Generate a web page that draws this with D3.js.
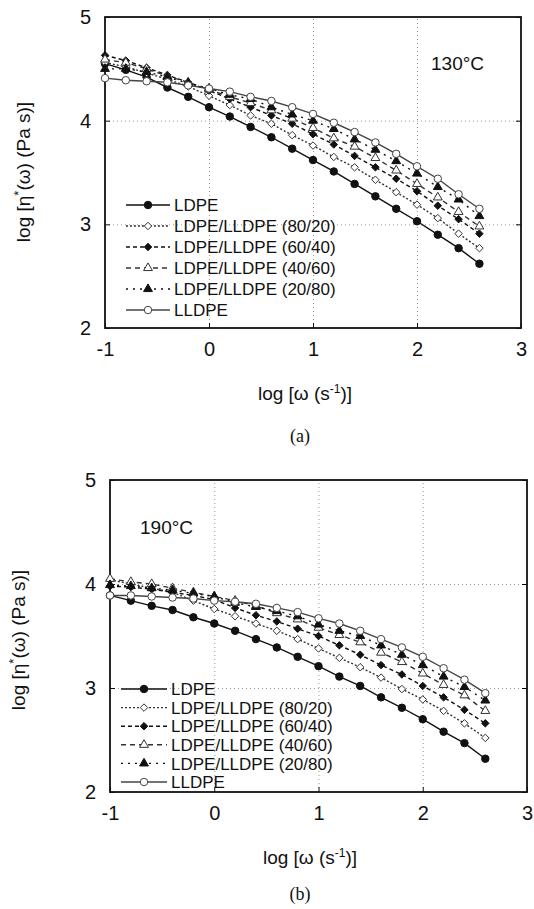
<!DOCTYPE html>
<html>
<head>
<meta charset="utf-8">
<script src="https://cdn.jsdelivr.net/npm/d3@7"></script>
<style>
  body { margin: 0; background: #fff; }
  text { font-family: "Liberation Sans", Arial, sans-serif; fill: #111; }
</style>
</head>
<body>
<script>
const width = 534
const height = 909

// log(omega) values, same for every series
const logOmega = [-1, -0.8, -0.6, -0.4, -0.2, 0, 0.2, 0.4, 0.6, 0.8, 1, 1.2, 1.4, 1.6, 1.8, 2, 2.2, 2.4, 2.6];

const seriesNames = ["LDPE", "LDPE/LLDPE (80/20)", "LDPE/LLDPE (60/40)",
                     "LDPE/LLDPE (40/60)", "LDPE/LLDPE (20/80)", "LLDPE"];

// (a) 130 C
const ldpe130  = [4.55,4.49,4.42,4.32,4.23,4.13,4.04,3.94,3.84,3.73,3.62,3.51,3.39,3.27,3.15,3.03,2.90,2.77,2.62];
const b8020_130 = [4.56,4.52,4.46,4.40,4.33,4.24,4.15,4.05,3.97,3.86,3.76,3.65,3.55,3.43,3.31,3.19,3.06,2.91,2.77];
const b6040_130 = [4.63,4.58,4.51,4.44,4.37,4.29,4.21,4.13,4.05,3.97,3.87,3.77,3.66,3.55,3.44,3.32,3.18,3.05,2.91];
const b4060_130 = [4.59,4.56,4.50,4.43,4.37,4.30,4.23,4.17,4.10,4.02,3.93,3.83,3.75,3.64,3.52,3.39,3.26,3.12,2.98];
const b2080_130 = [4.50,4.50,4.47,4.42,4.36,4.31,4.25,4.21,4.13,4.06,4.00,3.92,3.82,3.72,3.61,3.49,3.36,3.24,3.08];
const lldpe130 = [4.41,4.39,4.38,4.37,4.34,4.31,4.28,4.23,4.19,4.13,4.065,3.98,3.89,3.79,3.68,3.56,3.44,3.29,3.15];

// (b) 190 C
const ldpe190  = [3.89,3.84,3.79,3.75,3.68,3.62,3.55,3.47,3.39,3.30,3.21,3.11,3.02,2.91,2.81,2.70,2.58,2.47,2.32];
const b8020_190 = [4.04,4.00,3.96,3.92,3.84,3.76,3.69,3.62,3.55,3.47,3.38,3.29,3.20,3.10,2.99,2.89,2.78,2.66,2.52];
const b6040_190 = [3.98,3.97,3.95,3.92,3.89,3.85,3.77,3.70,3.64,3.57,3.50,3.41,3.32,3.22,3.13,3.02,2.91,2.79,2.66];
const b4060_190 = [4.05,4.02,4.00,3.96,3.92,3.88,3.84,3.79,3.72,3.66,3.58,3.51,3.44,3.34,3.25,3.14,3.03,2.93,2.78];
const b2080_190 = [3.99,3.98,3.96,3.94,3.91,3.88,3.82,3.78,3.74,3.69,3.61,3.55,3.50,3.41,3.32,3.22,3.11,3.01,2.88];
const lldpe190 = [3.89,3.89,3.88,3.87,3.86,3.84,3.83,3.81,3.77,3.73,3.67,3.62,3.55,3.47,3.39,3.30,3.19,3.08,2.95];

const xTicks = [-1, 0, 1, 2, 3];
const yTicks = [2, 3, 4, 5];

// line / marker style per series
const styles = [
  {dash: null,  marker: "circle",   fill: "#111", stroke: "#111"},
  {dash: "2,2", marker: "diamond",  fill: "#fff", stroke: "#333"},
  {dash: "4,3", marker: "diamond",  fill: "#111", stroke: "#111"},
  {dash: "5,4", marker: "triangle", fill: "#fff", stroke: "#333"},
  {dash: "2,5", marker: "triangle", fill: "#111", stroke: "#111"},
  {dash: null,  marker: "circle",   fill: "#fff", stroke: "#444"}
];

const svg = d3.select("body").append("svg")
    .attr("width", width)
    .attr("height", height);

svg.append("rect").attr("width", width).attr("height", height).attr("fill", "#fff");

// square diamond (rotated square), d3's own diamond is too narrow
const squareDiamond = {
  draw(context, size) {
    const r = Math.sqrt(size / 2);
    context.moveTo(0, -r);
    context.lineTo(r, 0);
    context.lineTo(0, r);
    context.lineTo(-r, 0);
    context.closePath();
  }
};

const symbols = {
  circle: d3.symbol().type(d3.symbolCircle).size(44),
  diamond: d3.symbol().type(squareDiamond).size(28),
  triangle: d3.symbol().type(d3.symbolTriangle).size(34)
};

const tickFmt = d => String(d);

function drawPanel(p) {
  const x = d3.scaleLinear().domain([-1, 3]).range([p.left, p.right]);
  const y = d3.scaleLinear().domain([2, 5]).range([p.bottom, p.top]);
  const g = svg.append("g");

  // dotted grid
  g.append("g")
    .attr("transform", `translate(0,${p.bottom})`)
    .call(d3.axisBottom(x).tickValues([0, 1, 2]).tickSize(-(p.bottom - p.top)).tickFormat(""))
    .call(s => s.select(".domain").remove())
    .selectAll("line").attr("stroke", "#999").attr("stroke-dasharray", "1,3");
  g.append("g")
    .attr("transform", `translate(${p.left},0)`)
    .call(d3.axisLeft(y).tickValues([3, 4]).tickSize(-(p.right - p.left)).tickFormat(""))
    .call(s => s.select(".domain").remove())
    .selectAll("line").attr("stroke", "#999").attr("stroke-dasharray", "1,3");

  // axes with inward ticks
  const xa = g.append("g")
    .attr("transform", `translate(0,${p.bottom})`)
    .call(d3.axisBottom(x).tickValues(xTicks).tickFormat(tickFmt)
      .tickSizeInner(-5).tickSizeOuter(0).tickPadding(14));
  const ya = g.append("g")
    .attr("transform", `translate(${p.left},0)`)
    .call(d3.axisLeft(y).tickValues(yTicks).tickFormat(tickFmt)
      .tickSizeInner(-5).tickSizeOuter(0).tickPadding(14));
  g.append("g")
    .attr("transform", `translate(${p.right},0)`)
    .call(d3.axisRight(y).tickValues(yTicks).tickSizeInner(-5).tickSizeOuter(0).tickFormat(""))
    .call(s => s.select(".domain").remove());
  [xa, ya].forEach(a => {
    a.select(".domain").remove();
    a.selectAll("text").attr("font-size", 20).attr("font-family", "Liberation Sans, Arial, sans-serif").attr("fill", "#111");
    a.selectAll("line").attr("stroke", "#111");
  });

  g.append("rect")
    .attr("x", p.left).attr("y", p.top)
    .attr("width", p.right - p.left).attr("height", p.bottom - p.top)
    .attr("fill", "none").attr("stroke", "#111").attr("stroke-width", 1.8);

  const line = d3.line().x((d, i) => x(logOmega[i])).y(d => y(d));

  p.series.forEach((vals, k) => {
    const st = styles[k];
    g.append("path")
      .datum(vals)
      .attr("d", line)
      .attr("fill", "none")
      .attr("stroke", st.stroke)
      .attr("stroke-width", 1.4)
      .attr("stroke-dasharray", st.dash);
  });
  p.series.forEach((vals, k) => {
    const st = styles[k];
    g.selectAll(null)
      .data(vals)
      .enter().append("path")
      .attr("transform", (d, i) => `translate(${x(logOmega[i])},${y(d)})`)
      .attr("d", symbols[st.marker])
      .attr("fill", st.fill)
      .attr("stroke", st.stroke)
      .attr("stroke-width", 1);
  });

  // legend
  seriesNames.forEach((name, k) => {
    const st = styles[k];
    const ly = p.legTop + k * p.legStep;
    g.append("line")
      .attr("x1", p.legX0).attr("x2", p.legX1)
      .attr("y1", ly).attr("y2", ly)
      .attr("stroke", st.stroke).attr("stroke-width", 1.4)
      .attr("stroke-dasharray", st.dash);
    g.append("path")
      .attr("transform", `translate(${(p.legX0 + p.legX1) / 2},${ly})`)
      .attr("d", symbols[st.marker])
      .attr("fill", st.fill).attr("stroke", st.stroke);
    g.append("text")
      .attr("x", p.legX1 + 4).attr("y", ly)
      .attr("dy", "0.36em")
      .attr("font-size", 17)
      .text(name);
  });

  // temperature
  g.append("text")
    .attr("x", p.tempX).attr("y", p.tempY)
    .attr("font-size", 19)
    .text(p.temp);

  // axis titles
  const xt = g.append("text")
    .attr("x", p.xTitleX).attr("y", p.xTitleY)
    .attr("text-anchor", "middle")
    .attr("font-size", 19);
  xt.append("tspan").text("log [ω (s");
  xt.append("tspan").attr("dy", -7).attr("font-size", 12).text("-1");
  xt.append("tspan").attr("dy", 7).text(")]");

  const yt = g.append("text")
    .attr("transform", `translate(${p.yTitleX},${p.yTitleY}) rotate(-90)`)
    .attr("text-anchor", "middle")
    .attr("font-size", 19);
  yt.append("tspan").text("log [η");
  yt.append("tspan").attr("dy", -7).attr("font-size", 13).text("*");
  yt.append("tspan").attr("dy", 7).text("(ω) (Pa s)]");

  g.append("text")
    .attr("x", p.capX).attr("y", p.capY)
    .attr("text-anchor", "middle")
    .style("font-family", "'Liberation Serif', serif")
    .attr("font-size", 18)
    .text(p.caption);
}

drawPanel({
  left: 105, right: 521, top: 17, bottom: 328,
  series: [ldpe130, b8020_130, b6040_130, b4060_130, b2080_130, lldpe130],
  legTop: 205, legStep: 21, legX0: 126, legX1: 170,
  temp: "130°C", tempX: 431, tempY: 70,
  xTitleX: 305, xTitleY: 400, yTitleX: 30, yTitleY: 172,
  caption: "(a)", capX: 300, capY: 442
});

drawPanel({
  left: 110, right: 527, top: 480, bottom: 792,
  series: [ldpe190, b8020_190, b6040_190, b4060_190, b2080_190, lldpe190],
  legTop: 689, legStep: 18.6, legX0: 121, legX1: 167,
  temp: "190°C", tempX: 140, tempY: 534,
  xTitleX: 310, xTitleY: 864, yTitleX: 25, yTitleY: 640,
  caption: "(b)", capX: 300, capY: 900
});
</script>
</body>
</html>
